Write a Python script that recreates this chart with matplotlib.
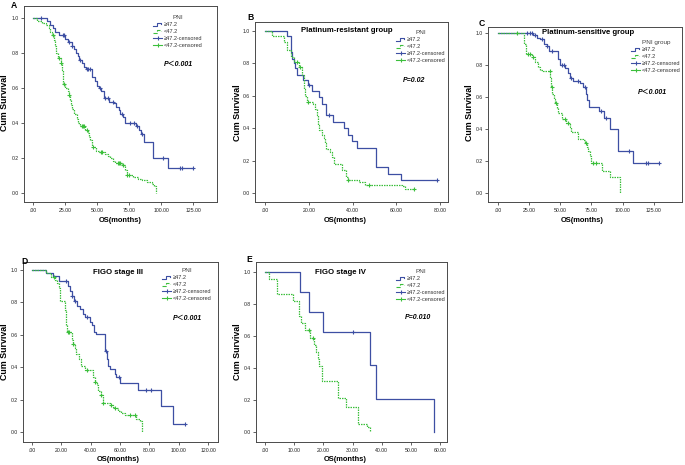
import matplotlib
matplotlib.use('Agg')
import matplotlib.pyplot as plt
from matplotlib.lines import Line2D
from matplotlib.legend_handler import HandlerBase

plt.rcParams['font.family'] = ['Liberation Sans', 'DejaVu Sans', 'Noto Sans CJK SC']

# ---------------- data ----------------
group_labels = ["\u226547.2", "<47.2", "\u226547.2-censored", "<47.2-censored"]

# Panel A (all patients)
A_hi_t = [11, 13, 15, 17, 20, 25, 27, 30, 32, 33, 35, 36, 38, 40, 41, 46, 48, 50, 51, 53, 55, 59, 63, 65, 67, 68, 70, 72, 80, 83, 84, 86.7, 93.2, 105]
A_hi_s = [0.98, 0.96, 0.94, 0.92, 0.90, 0.88, 0.86, 0.84, 0.82, 0.80, 0.78, 0.76, 0.74, 0.72, 0.705, 0.66, 0.64, 0.61, 0.60, 0.58, 0.54, 0.52, 0.51, 0.49, 0.47, 0.45, 0.43, 0.40, 0.38, 0.36, 0.335, 0.29, 0.195, 0.14]
A_hi_c = [6, 23, 24, 28, 30, 36.5, 42, 43, 44, 52, 56, 58, 62, 69, 75.3, 79, 81, 85, 101, 114.6, 116.5, 125]
A_lo_t = [3, 7, 10, 12, 13, 14.5, 16, 17, 18, 19.4, 21.5, 22.5, 23, 23.5, 25, 27, 27.5, 28.5, 29.5, 30.5, 32, 34, 35, 36.5, 40.5, 42.5, 43.5, 44.5, 46, 49, 51, 56, 58, 60, 62, 64, 69, 72, 73, 78, 81.5, 85, 89, 92.5, 94.5, 96]
A_lo_s = [0.98, 0.97, 0.96, 0.94, 0.92, 0.90, 0.87, 0.84, 0.80, 0.77, 0.74, 0.70, 0.66, 0.62, 0.60, 0.58, 0.56, 0.53, 0.50, 0.48, 0.45, 0.42, 0.40, 0.38, 0.36, 0.34, 0.32, 0.30, 0.26, 0.24, 0.23, 0.22, 0.21, 0.20, 0.18, 0.17, 0.16, 0.13, 0.10, 0.09, 0.08, 0.07, 0.06, 0.05, 0.04, 0.0]
A_lo_c = [15, 20, 21.8, 24, 28, 38, 39, 40, 42, 47, 53, 54, 66, 67, 68, 70, 73.5, 75]

# Panel B (platinum-resistant)
B_hi_t = [10, 11.7, 12.2, 13, 13.7, 14.5, 17.5, 19.5, 21.3, 24.8, 26, 28, 31, 36.3, 38, 39.6, 42, 50.7, 56.4, 62]
B_hi_s = [0.97, 0.87, 0.83, 0.80, 0.77, 0.73, 0.70, 0.665, 0.63, 0.59, 0.55, 0.48, 0.44, 0.40, 0.36, 0.32, 0.28, 0.16, 0.12, 0.08]
B_hi_c = [20, 29.4, 78.8]
B_lo_t = [3, 8.8, 10, 11.7, 13, 15.5, 16.8, 17.7, 18, 18.3, 19, 21.8, 22.9, 23.6, 24, 24.8, 26, 27, 27.4, 28, 29.7, 30.8, 31.7, 35, 37, 37.8, 43, 45.7, 62.5, 64]
B_lo_s = [0.97, 0.93, 0.88, 0.84, 0.81, 0.78, 0.73, 0.69, 0.64, 0.60, 0.56, 0.55, 0.52, 0.48, 0.42, 0.39, 0.36, 0.34, 0.31, 0.27, 0.25, 0.22, 0.18, 0.14, 0.10, 0.08, 0.07, 0.05, 0.04, 0.025]
B_lo_c = [14.5, 16, 19.8, 38, 47.7, 68]

# Panel C (platinum-sensitive)
C_hi_t = [28.5, 31.6, 33.5, 37, 39, 41, 48.3, 49.6, 53.6, 56.3, 57.7, 60.5, 65.7, 68.4, 70.5, 71.6, 73.2, 81, 85.3, 90, 96.6, 108.6]
C_hi_s = [0.99, 0.97, 0.96, 0.93, 0.92, 0.89, 0.84, 0.80, 0.78, 0.75, 0.72, 0.70, 0.69, 0.66, 0.62, 0.58, 0.54, 0.51, 0.47, 0.40, 0.26, 0.19]
C_hi_c = [23, 25.5, 27, 30, 35.4, 39.5, 43, 51, 53, 59, 64, 70, 82.4, 87, 105, 118.8, 120.7, 129.6]
C_lo_t = [20.7, 22.8, 27.4, 29.5, 32, 33.5, 36, 42, 42.8, 43.7, 45, 46, 47, 48.3, 51, 55, 57.7, 59, 64.4, 67.9, 70, 71.5, 72.4, 73.8, 75, 83.2, 89.9, 98]
C_lo_s = [0.93, 0.87, 0.85, 0.82, 0.79, 0.77, 0.76, 0.72, 0.665, 0.62, 0.59, 0.56, 0.53, 0.50, 0.46, 0.44, 0.41, 0.38, 0.34, 0.33, 0.31, 0.29, 0.26, 0.23, 0.19, 0.14, 0.10, 0.0]
C_lo_c = [15.6, 24, 25.5, 28, 41.6, 43.2, 46.4, 53.6, 56.3, 71, 76, 78.6]

# Panel D (FIGO stage III)
D_hi_t = [9.8, 14.3, 18.4, 24.5, 25.7, 27, 28.4, 30.7, 32.5, 34.8, 36, 39.3, 41, 42.3, 43.4, 49.5, 50, 51, 51.8, 53, 56.4, 57.5, 60.2, 72.3, 88.2, 96.1]
D_hi_s = [0.98, 0.96, 0.93, 0.90, 0.87, 0.84, 0.81, 0.78, 0.76, 0.73, 0.71, 0.68, 0.66, 0.62, 0.605, 0.55, 0.50, 0.45, 0.41, 0.39, 0.36, 0.34, 0.30, 0.26, 0.16, 0.05]
D_hi_c = [23.5, 27.5, 29, 37.5, 50.2, 59.3, 78, 81.4, 104]
D_lo_t = [9.8, 13, 16, 17, 18.4, 18.9, 22.3, 23, 23.4, 24, 27.3, 28, 29, 30.2, 32, 33.6, 35.9, 41.6, 43, 44, 45, 47, 48.4, 53, 55, 56, 58.6, 61, 63.2, 71, 73.4, 75]
D_lo_s = [0.98, 0.955, 0.94, 0.92, 0.89, 0.81, 0.75, 0.70, 0.66, 0.62, 0.57, 0.545, 0.52, 0.48, 0.45, 0.41, 0.38, 0.34, 0.31, 0.29, 0.25, 0.23, 0.18, 0.165, 0.155, 0.145, 0.13, 0.12, 0.105, 0.08, 0.065, 0.0]
D_lo_c = [15, 24.5, 25, 28.2, 37.5, 43.2, 47.3, 48.6, 54, 56.4, 67, 70]

# Panel E (FIGO stage IV)
E_hi_t = [12, 15, 20, 36, 38, 58]
E_hi_s = [0.875, 0.75, 0.625, 0.417, 0.208, 0.0]
E_hi_c = [30]
E_lo_t = [1.5, 4, 9.7, 11.7, 12.3, 13.7, 15.4, 16.9, 17.5, 18, 18.6, 19.4, 25.1, 27.8, 32, 34.9, 36]
E_lo_s = [0.955, 0.864, 0.818, 0.727, 0.682, 0.636, 0.59, 0.545, 0.50, 0.455, 0.41, 0.318, 0.212, 0.159, 0.053, 0.03, 0.0]
E_lo_c = [15, 16.3]

# ---------------- style ----------------
W, H = 685, 465
BLUE = '#3d4fa3'
GREEN = '#3cbf3c'
FRAME = '#4a4a4a'
fig = plt.figure(figsize=(6.85, 4.65), dpi=100)
fig.patch.set_facecolor('white')


def fx(x):
    return x / W


def fy(y):
    return 1 - y / H


def surv_at(t, s, c):
    v = 1.0
    for ti, si in zip(t, s):
        if ti <= c:
            v = si
    return v


def draw_km(ax, t, s, c, color, ls):
    xs = [0.0] + list(t)
    ys = [1.0] + list(s)
    if c and max(c) > xs[-1]:
        xs.append(max(c))
        ys.append(ys[-1])
    ax.step(xs, ys, where='post', color=color, lw=0.9, linestyle=ls)
    cy = [surv_at(t, s, ci) for ci in c]
    ax.plot(c, cy, linestyle='none', marker='+', ms=3.2, mew=0.8, color=color)


class StepHandler(HandlerBase):
    def create_artists(self, legend, orig_handle, xdescent, ydescent,
                       width, height, fontsize, trans):
        x0 = -xdescent
        y0 = -ydescent
        xs = [x0, x0 + 0.4 * width, x0 + 0.4 * width, x0 + 0.85 * width, x0 + 0.85 * width]
        ys = [y0 + 0.1 * height, y0 + 0.1 * height, y0 + 0.9 * height, y0 + 0.9 * height, y0 + 0.45 * height]
        ln = Line2D(xs, ys, color=orig_handle.get_color(),
                    linestyle=orig_handle.get_linestyle(), lw=0.8)
        ln.set_transform(trans)
        return [ln]


GREEN_LS = (0, (1.2, 0.8))


def panel(box, xlim, ylim, xticks, letter, letter_xy, title, title_xy,
          leg_title, leg_xy, ptext, p_xy, ylab_xy, xlab_xy,
          hi, lo):
    L, R, T, B = box
    ax = fig.add_axes([fx(L), fy(B), (R - L) / W, (B - T) / H])
    ax.set_xlim(*xlim)
    ax.set_ylim(*ylim)
    draw_km(ax, *hi, BLUE, '-')
    draw_km(ax, *lo, GREEN, GREEN_LS)
    ax.set_xticks(xticks)
    ax.set_xticklabels(['.00' if v == 0 else f'{v:.2f}' for v in xticks])
    yt = [0.0, 0.2, 0.4, 0.6, 0.8, 1.0]
    ax.set_yticks(yt)
    ax.set_yticklabels([f'{v:.1f}' for v in yt])
    ax.tick_params(direction='out', length=2, width=0.5, labelsize=3.7,
                   pad=2, colors='#222222')
    for sp in ax.spines.values():
        sp.set_color(FRAME)
        sp.set_linewidth(0.7)
    fig.text(fx(letter_xy[0]), fy(letter_xy[1]), letter, fontsize=6.2,
             fontweight='bold', ha='center', va='center')
    if title:
        fig.text(fx(title_xy[0]), fy(title_xy[1]), title, fontsize=5.6,
                 fontweight='bold', ha='center', va='center')
    fig.text(fx(ylab_xy[0]), fy(ylab_xy[1]), 'Cum Survival', rotation=90,
             fontsize=6.4, fontweight='bold', ha='center', va='center')
    fig.text(fx(xlab_xy[0]), fy(xlab_xy[1]), 'OS(months)',
             fontsize=5.4, fontweight='bold', ha='center', va='center')
    fig.text(fx(p_xy[0]), fy(p_xy[1]), ptext, fontsize=5.0,
             fontweight='bold', fontstyle='italic', ha='center', va='center')
    handles = [Line2D([], [], color=BLUE, linestyle='-'),
               Line2D([], [], color=GREEN, linestyle=(0, (1.2, 0.8))),
               Line2D([], [], color=BLUE, lw=0.8, marker='|', ms=3.5, mew=0.8),
               Line2D([], [], color=GREEN, lw=0.8, marker='|', ms=3.5, mew=0.8)]
    leg = ax.legend(handles, group_labels, title=leg_title,
                    loc='upper left', bbox_to_anchor=(fx(leg_xy[0]), fy(leg_xy[1])),
                    bbox_transform=fig.transFigure, frameon=False,
                    fontsize=4.0, title_fontsize=4.6, borderpad=0,
                    handlelength=1.7, handletextpad=0.25, labelspacing=0.38,
                    borderaxespad=0,
                    handler_map={handles[0]: StepHandler(), handles[1]: StepHandler()})
    leg.get_title().set_color('#444444')
    for txt in leg.get_texts():
        txt.set_color('#333333')
    return ax


PLT = "P\uff1c0.001"

panel((24, 217, 6, 202), (-7.3, 143.6), (-0.054, 1.066), [0, 25, 50, 75, 100, 125],
      'A', (14, 5), None, None, 'PNI', (153, 15), PLT, (178, 64),
      (5, 103), (120, 220),
      (A_hi_t, A_hi_s, A_hi_c), (A_lo_t, A_lo_s, A_lo_c))

panel((255, 448, 22, 202), (-4.6, 83.6), (-0.056, 1.056), [0, 20, 40, 60, 80],
      'B', (250, 18), 'Platinum-resistant group', (347, 30), 'PNI', (396, 30),
      'P=0.02', (414, 81), (237, 113), (345, 220),
      (B_hi_t, B_hi_s, B_hi_c), (B_lo_t, B_lo_s, B_lo_c))

panel((488, 682, 27, 202), (-8.0, 147.7), (-0.056, 1.0375), [0, 25, 50, 75, 100, 125],
      'C', (482, 23), 'Platinum-sensitive group', (588, 33), 'PNI group', (631, 40),
      PLT, (652, 92), (469, 113), (582, 220),
      (C_hi_t, C_hi_s, C_hi_c), (C_lo_t, C_lo_s, C_lo_c))

panel((23, 218, 262, 442), (-6.1, 126.8), (-0.062, 1.049), [0, 20, 40, 60, 80, 100, 120],
      'D', (24, 261), 'FIGO stage III', (118, 272), 'PNI', (162, 268),
      PLT, (187, 318), (5, 352), (118, 459),
      (D_hi_t, D_hi_s, D_hi_c), (D_lo_t, D_lo_s, D_lo_c))

panel((256, 447, 262, 442), (-3.1, 62.4), (-0.0625, 1.0625), [0, 10, 20, 30, 40, 50, 60],
      'E', (249, 259), 'FIGO stage IV', (340, 273), 'PNI', (396, 269),
      'P=0.010', (418, 317), (237, 352), (345, 459),
      (E_hi_t, E_hi_s, E_hi_c), (E_lo_t, E_lo_s, E_lo_c))

fig.savefig('out.png', dpi=100, facecolor='white')
